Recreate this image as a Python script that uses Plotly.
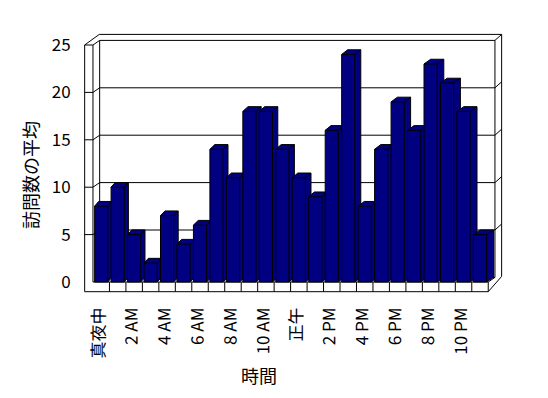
import plotly.graph_objects as go

# ---------------- data ----------------
hours = ["真夜中", "1 AM", "2 AM", "3 AM", "4 AM", "5 AM", "6 AM", "7 AM",
         "8 AM", "9 AM", "10 AM", "11 AM", "正午", "1 PM", "2 PM", "3 PM",
         "4 PM", "5 PM", "6 PM", "7 PM", "8 PM", "9 PM", "10 PM", "11 PM"]
visits = [8, 10, 5, 2, 7, 4, 6, 14, 11, 18, 18, 14,
          11, 9, 16, 24, 8, 14, 19, 16, 23, 21, 18, 5]
y_ticks = [0, 5, 10, 15, 20, 25]
x_tick_pos = list(range(0, len(hours), 2))
x_tick_text = hours[::2]
x_title = "時間"
y_title = "訪問数の平均"

# ---------------- geometry (pixels, figure coordinates) ----------------
W, H = 548, 398
OFF = 8                    # page body margin
X0, XS = 101.2 - OFF, 16.47   # pixel of category 0 centre, pixels per category
Y0, YS = 282.0 - OFF, 9.48    # pixel of value 0, pixels per unit
PL, PR, PT, PB = 80 - OFF, 506 - OFF, 30 - OFF, 295 - OFF   # plot-area bounds

def gx(px):
    return (px - X0) / XS

def gy(py):
    return (Y0 - py) / YS

def paper_x(px):
    return (px - PL) / (PR - PL)

def paper_y(py):
    return (PB - py) / (PB - PT)

FONT = "Noto Sans CJK JP, Noto Sans, sans-serif"
NAVY = "#000080"

fig = go.Figure()

# ---------------- frame (walls and floor) ----------------
shapes = []
def seg(x1, y1, x2, y2):
    shapes.append(dict(type="line", xref="x", yref="y",
                       x0=gx(x1), y0=gy(y1), x1=gx(x2), y1=gy(y2),
                       line=dict(color="black", width=1), layer="below"))

n = len(hours)
wall_in = X0 - 0.5 * XS
wall_out = wall_in - 8.3
front_right = X0 + (n - 0.5) * XS
DXW, DYW = 6.7, -4.6      # wall depth
DXT, DYT = 6.7, -6.0      # wall slab thickness
ymax = max(y_ticks)
front_top = Y0 - ymax * YS
floor_bot = Y0 + 9.7
back_in_l = wall_in + DXW
back_in_r = front_right + DXW
back_out_r = back_in_r + DXT
back_top_in = front_top + DYW
back_top_out = back_top_in + DYT

# left wall front face
seg(wall_out, front_top, wall_in, front_top)
seg(wall_out, front_top, wall_out, floor_bot)
seg(wall_in, front_top, wall_in, Y0)
seg(wall_out, front_top, back_in_l - 0.4, back_top_out)
seg(wall_in, front_top, back_in_l, back_top_in)
# back wall
seg(back_in_l, back_top_in, back_in_r, back_top_in)
seg(back_in_l - 0.4, back_top_out, back_out_r, back_top_out)
seg(back_in_r, back_top_in, back_out_r, back_top_out)
seg(back_in_l, back_top_in, back_in_l, Y0 + DYW)
seg(back_in_r, back_top_in, back_in_r, Y0 + DYW)
seg(back_out_r, back_top_out, back_out_r, Y0 + DYW - 1.0)
# gridlines on the walls
for v in y_ticks[1:-1]:
    yf = Y0 - v * YS
    seg(wall_out, yf, wall_in, yf)
    seg(wall_in, yf, back_in_l, yf + DYW)
    seg(back_in_l, yf + DYW, back_in_r, yf + DYW)
    seg(back_in_r, yf + DYW, back_out_r, yf + DYW + DYT)
# floor
seg(wall_in, Y0, front_right, Y0)
seg(wall_out, floor_bot, front_right, floor_bot)
seg(front_right, Y0, front_right, floor_bot)
seg(back_in_l, Y0 + DYW, back_in_r, Y0 + DYW)
seg(front_right, Y0, back_in_r, Y0 + DYW)
seg(front_right, floor_bot, back_out_r, Y0 + DYW - 1.0)
for k in range(1, n):
    xb = X0 + (k - 0.5) * XS
    seg(xb, Y0, xb, floor_bot)

# ---------------- bars (pseudo 3D) ----------------
half = 0.4
for i, v in enumerate(visits):
    ddx = (4.0 + 3.0 * i / (n - 1)) / XS
    ddy = 4.7 / YS
    xl, xr = i - half, i + half
    fig.add_trace(go.Scatter(
        x=[xl, xl, xl + ddx, xr + ddx, xr + ddx, xr, xl],
        y=[0, v, v + ddy, v + ddy, ddy, 0, 0],
        mode="lines", fill="toself", fillcolor=NAVY,
        line=dict(color="black", width=1),
        hoverinfo="skip", showlegend=False))
    fig.add_trace(go.Scatter(
        x=[xl, xr, xr, None, xr, xr + ddx],
        y=[v, v, 0, None, v, v + ddy],
        mode="lines", line=dict(color="black", width=1),
        hoverinfo="skip", showlegend=False))

# ---------------- axis titles ----------------
annotations = [
    dict(text=x_title, xref="paper", yref="paper",
         x=paper_x(259 - OFF), y=paper_y(375 - OFF),
         xanchor="center", yanchor="middle", showarrow=False,
         font=dict(size=18)),
    dict(text=y_title, xref="paper", yref="paper", textangle=-90,
         x=paper_x(30 - OFF), y=paper_y(175 - OFF),
         xanchor="center", yanchor="middle", showarrow=False,
         font=dict(size=18)),
]

fig.update_layout(
    width=W, height=H,
    margin=dict(l=PL, r=W - PR, t=PT, b=H - PB, pad=0),
    paper_bgcolor="white", plot_bgcolor="white",
    font=dict(family=FONT, color="black", size=16),
    shapes=shapes, annotations=annotations,
    xaxis=dict(range=[gx(PL), gx(PR)], tickvals=x_tick_pos, ticktext=x_tick_text,
               tickangle=-89.9, ticks="", automargin=False,
               ticklabelshift=-5, ticklabelstandoff=3,
               showgrid=False, zeroline=False,
               showline=False, tickfont=dict(size=17, color="black")),
    yaxis=dict(range=[gy(PB), gy(PT)], tickvals=y_ticks, automargin=False,
               ticks="outside", ticklen=5, tickcolor="rgba(0,0,0,0)",
               showgrid=False, zeroline=False, showline=False,
               tickfont=dict(size=17)),
)

fig.write_html("out.html")
